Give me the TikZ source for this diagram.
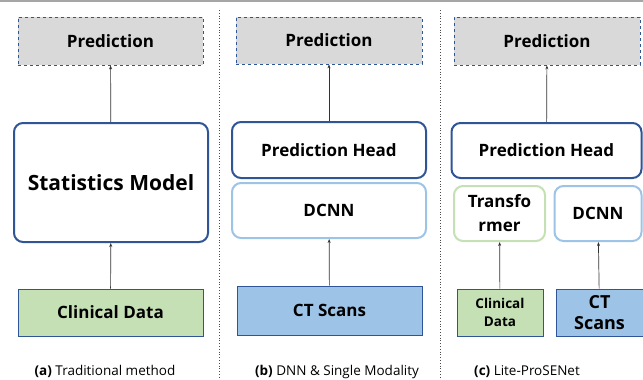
\documentclass[tikz,border=0pt]{standalone}
\usepackage{fontspec}
\setmainfont{Open Sans}
\usetikzlibrary{arrows.meta}
\definecolor{dblue}{HTML}{2F5597}
\definecolor{lblue}{HTML}{9DC3E6}
\definecolor{lgreen}{HTML}{C5E0B4}
\definecolor{pgray}{HTML}{D9D9D9}
\tikzset{
  pred/.style={draw=dblue, fill=pgray, dashed, line width=0.8pt, inner sep=0pt, font=\fontsize{17}{19}\selectfont\bfseries},
  headbox/.style={draw=dblue, fill=white, rounded corners=9pt, line width=2pt, inner sep=0pt, align=center},
  lbbox/.style={draw=lblue, fill=white, rounded corners=9pt, line width=2pt, inner sep=0pt, align=center},
  lgbox/.style={draw=lgreen, fill=white, rounded corners=9pt, line width=2pt, inner sep=0pt, align=center},
  inbox/.style={draw=dblue, line width=0.8pt, inner sep=0pt, align=center},
  arr/.style={draw=black!80, line width=0.7pt, -{Stealth[length=4pt,width=3pt]}},
  divider/.style={draw=black!70, line width=0.8pt, dotted},
  captext/.style={font=\fontsize{13.5}{16}\selectfont, inner sep=0pt},
  mid/.style={font=\fontsize{17}{19}\selectfont\bfseries}
}
\begin{document}
\begin{tikzpicture}[x=1pt,y=-1pt]
\useasboundingbox (0,0) rectangle (643,380);
\draw[black!35, line width=2pt] (0,0.5) -- (643,0.5);
% dividers
\coordinate (d1a) at (219,10); \coordinate (d1b) at (219,380);
\coordinate (d2a) at (440,10); \coordinate (d2b) at (440,380);
\draw[divider] (d1a) -- (d1b);
\draw[divider] (d2a) -- (d2b);
% panel a
\node[pred, minimum width=185pt, minimum height=48pt] (pa) at (110.5,41) {Prediction};
\node[headbox, minimum width=194pt, minimum height=119pt, font=\fontsize{21}{24}\selectfont\bfseries] (sm) at (111,182.5) {Statistics Model};
\node[inbox, fill=lgreen, minimum width=185pt, minimum height=47pt, mid] (cda) at (110.5,312.5) {Clinical Data};
\draw[arr] (cda) -- (sm);
\draw[arr] (sm) -- (pa);
\node[captext] (capa) at (105,371) {\textbf{(a)} Traditional method};
% panel b
\node[pred, minimum width=186pt, minimum height=47pt] (pb) at (329,40.5) {Prediction};
\node[headbox, minimum width=194pt, minimum height=56pt, mid] (phb) at (329,150) {Prediction Head};
\node[lbbox, minimum width=194pt, minimum height=55pt, mid] (dcb) at (329,210.5) {DCNN};
\node[inbox, fill=lblue, minimum width=185pt, minimum height=49pt, mid] (ctb) at (329.5,310.5) {CT Scans};
\draw[arr] (ctb) -- (dcb);
\draw[arr] (phb) -- (pb);
\node[captext] (capb) at (337,372) {\textbf{(b)} DNN \& Single Modality};
% panel c
\node[pred, minimum width=186pt, minimum height=48pt] (pc) at (547,41) {Prediction};
\node[headbox, minimum width=190pt, minimum height=55pt, mid] (phc) at (546.5,150.5) {Prediction Head};
\node[lgbox, minimum width=91pt, minimum height=55pt, font=\fontsize{17}{24}\selectfont\bfseries] (trc) at (499.5,213.5) {Transfo\\rmer};
\node[lbbox, minimum width=87pt, minimum height=55pt, mid] (dcc) at (598,213.5) {DCNN};
\node[inbox, fill=lgreen, minimum width=86pt, minimum height=47pt, font=\fontsize{13.5}{18}\selectfont\bfseries] (cdc) at (500,312.5) {Clinical\\Data};
\node[inbox, fill=lblue, minimum width=87pt, minimum height=47pt, font=\fontsize{18}{21}\selectfont\bfseries] (ctc) at (599.5,312.5) {CT\\Scans};
\draw[arr] (cdc) -- (trc);
\draw[arr] (ctc) -- (dcc);
\draw[arr] (phc) -- (pc);
\node[captext] (capc) at (527,372) {\textbf{(c)} Lite-ProSENet};
\end{tikzpicture}
\end{document}
